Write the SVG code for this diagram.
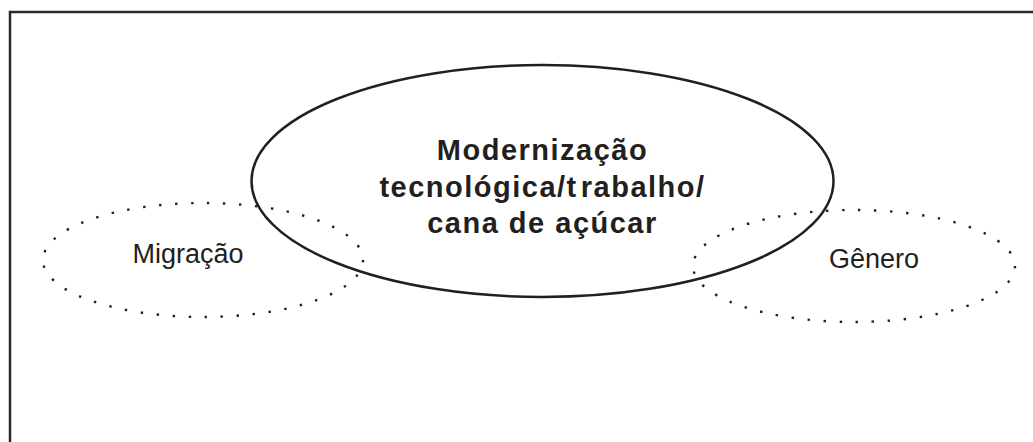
<svg xmlns="http://www.w3.org/2000/svg" width="1033" height="442" viewBox="0 0 1033 442">
<style>
.frame{fill:none;stroke:#2b2a29;stroke-width:2.5}
.main{fill:none;stroke:#231f20;stroke-width:2.5}
.dot{fill:none;stroke:#231f20;stroke-width:2.4;stroke-dasharray:2.4 13.6}
.big{font-family:"Liberation Sans",Arial,sans-serif;font-weight:bold;font-size:29px;letter-spacing:1.5px;fill:#231f20;text-anchor:middle}
.lbl{font-family:"Liberation Sans",Arial,sans-serif;font-size:27px;fill:#231f20;text-anchor:middle}
</style>
<rect width="1033" height="442" fill="#ffffff"/>
<path class="frame" d="M10 442 V12 H1033"/>
<g id="migracao">
<ellipse class="dot" cx="203" cy="260" rx="160" ry="57" pathLength="720"/>
<text class="lbl" x="188" y="263">Migração</text>
</g>
<g id="genero">
<ellipse class="dot" cx="854" cy="266" rx="161" ry="56" pathLength="720"/>
<text class="lbl" x="874" y="268">Gênero</text>
</g>
<g id="modernizacao">
<ellipse class="main" cx="542.5" cy="181" rx="291" ry="116"/>
<text class="big" x="542.5" y="160">Modernização</text>
<text class="big" x="542.5" y="197">tecnológica/t<tspan dx="3">rabalho/</tspan></text>
<text class="big" x="542.5" y="233">cana de açúcar</text>
</g>
<g id="connectors"/>
</svg>
